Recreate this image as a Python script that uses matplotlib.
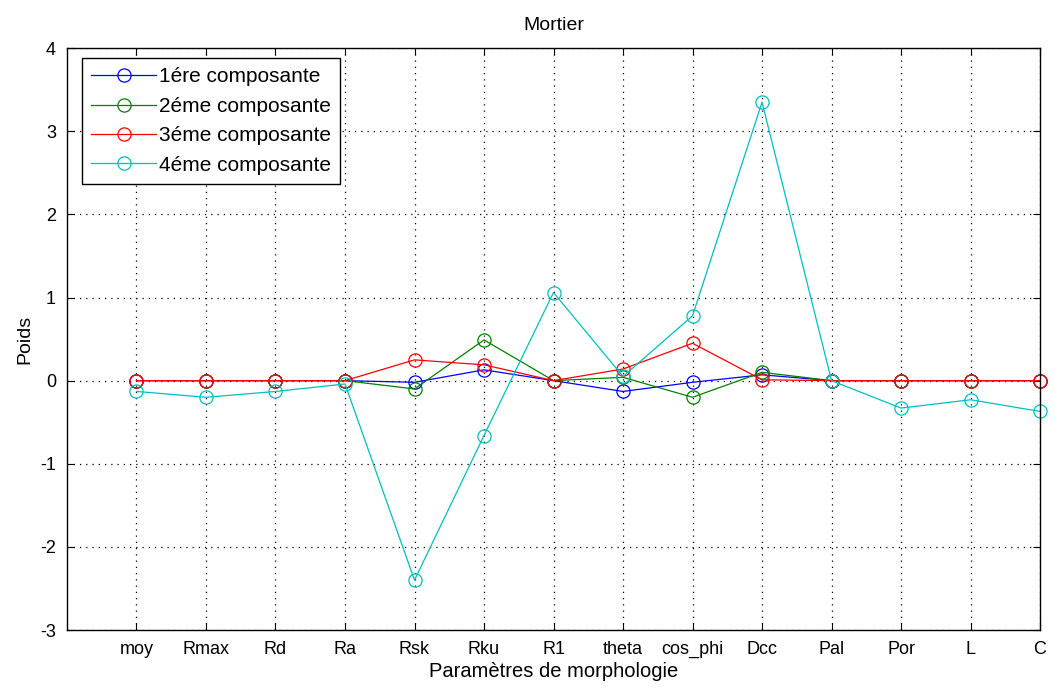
import matplotlib
matplotlib.use("Agg")
import matplotlib.pyplot as plt

params = ["moy", "Rmax", "Rd", "Ra", "Rsk", "Rku", "R1", "theta",
          "cos_phi", "Dcc", "Pal", "Por", "L", "C"]

comp1 = [0, 0, 0, 0, -0.02, 0.13, 0.0, -0.13, -0.02, 0.07, 0, 0, 0, 0]
comp2 = [0, 0, 0, 0, -0.10, 0.49, 0.0, 0.04, -0.20, 0.10, 0, 0, 0, 0]
comp3 = [0, 0, 0, 0, 0.25, 0.19, 0.0, 0.14, 0.45, 0.01, 0, 0, 0, 0]
comp4 = [-0.13, -0.20, -0.13, -0.04, -2.40, -0.66, 1.06, 0.05,
         0.78, 3.35, 0.0, -0.33, -0.23, -0.37]

labels = ["1ére composante", "2éme composante", "3éme composante", "4éme composante"]
colors = ["#0000ff", "#008000", "#ff0000", "#00bfbf"]

plt.rcParams["font.family"] = ["Liberation Sans", "DejaVu Sans"]
plt.rcParams["font.size"] = 13
plt.rcParams["axes.unicode_minus"] = False

fig = plt.figure(figsize=(10.55, 6.88), dpi=100)
ax = fig.add_axes([0.0635, 0.0843, 0.9223, 0.8457])

xs = list(range(1, len(params) + 1))
for vals, lab, col in zip([comp1, comp2, comp3, comp4], labels, colors):
    ax.plot(xs, vals, "-o", color=col, mfc="none", mec=col, ms=9.5,
            lw=0.9, mew=0.9, label=lab, clip_on=False)

ax.set_xlim(0, 14)
ax.set_ylim(-3, 4)
ax.set_xticks(xs)
ax.set_xticklabels(params)
ax.set_yticks(range(-3, 5))
ax.grid(True, linestyle=(0, (1, 4)), color="black", linewidth=0.9)
ax.tick_params(direction="in", length=5, top=True, right=True, pad=8)
for s in ax.spines.values():
    s.set_linewidth(1.0)

ax.set_title("Mortier", fontsize=14, pad=13)
ax.set_xlabel("Paramètres de morphologie", fontsize=14.5, labelpad=3)
ax.set_ylabel("Poids", fontsize=14, labelpad=5)

leg = ax.legend(loc="upper left", bbox_to_anchor=(0.0154, 0.983), fancybox=False,
                edgecolor="black", framealpha=1, fontsize=15, handlelength=3.1,
                handletextpad=0.15, borderpad=0.45, labelspacing=0.5,
                borderaxespad=0)
leg.get_frame().set_linewidth(1.0)

fig.savefig("out.png", dpi=100)
